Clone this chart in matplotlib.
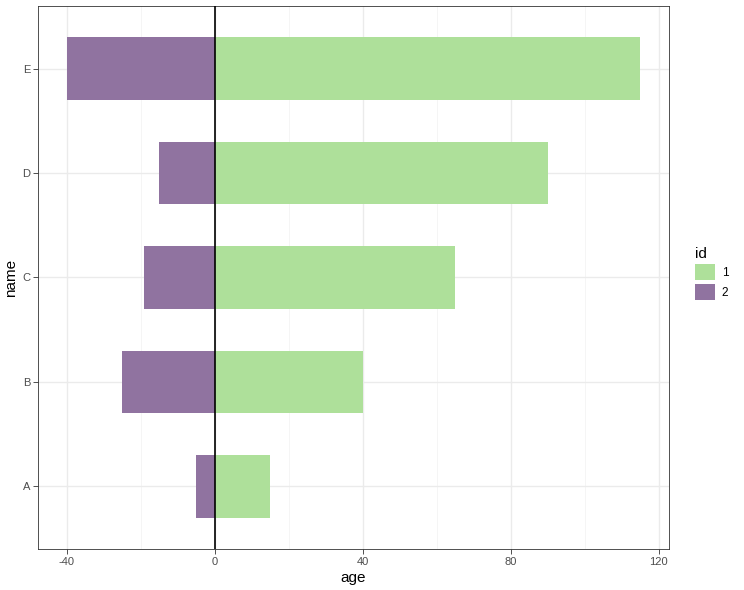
import numpy as np
import matplotlib.pyplot as plt
from matplotlib.patches import Patch

plt.rcParams['font.family'] = ['Liberation Sans', 'DejaVu Sans']
plt.rcParams['axes.unicode_minus'] = False

# data
names = ['A', 'B', 'C', 'D', 'E']
age_id1 = [15, 40, 65, 90, 115]
age_id2 = [-5, -25, -19, -15, -40]
ids = ['1', '2']
colors = ['#AEE09A', '#9073A0']

fig = plt.figure(figsize=(7.44, 5.9), dpi=100)
W, H = 744, 590
ax = fig.add_axes([38 / W, 1 - 549 / H, (669 - 38) / W, (549 - 6) / H])

ypos = np.arange(1, len(names) + 1)
ax.barh(ypos, age_id1, height=0.6, color=colors[0], zorder=2)
ax.barh(ypos, age_id2, height=0.6, color=colors[1], zorder=2)
ax.axvline(0, color='black', lw=1.2, zorder=3)

ax.set_xlim(-47.75, 122.75)
ax.set_ylim(0.4, 5.6)
ax.set_xticks([-40, 0, 40, 80, 120])
ax.set_xticks([-20, 20, 60, 100], minor=True)
ax.set_yticks(ypos)
ax.set_yticklabels(names)

ax.grid(True, which='major', color='#EBEBEB', lw=1.0, zorder=0)
ax.grid(True, which='minor', axis='x', color='#F4F4F4', lw=0.6, zorder=0)
ax.set_axisbelow(True)
for s in ax.spines.values():
    s.set_color('#333333')
    s.set_linewidth(0.6)
ax.tick_params(which='major', length=3.5, width=0.6, color='#333333',
               labelsize=8, labelcolor='#4D4D4D', pad=2)
ax.tick_params(which='minor', length=0)

ax.set_xlabel('age', fontsize=11, labelpad=3)
ax.set_ylabel('name', fontsize=11, labelpad=3)

handles = [Patch(facecolor=c, edgecolor='none') for c in colors]
leg = fig.legend(handles, ids, title='id', loc='upper left',
                 bbox_to_anchor=(690 / W, 1 - 242 / H), frameon=False,
                 fontsize=8.5, title_fontsize=11, handlelength=1.7,
                 handleheight=1.7, labelspacing=0.3, handletextpad=0.6,
                 borderaxespad=0)
leg._legend_box.align = 'left'

fig.savefig('out.png', dpi=100)
